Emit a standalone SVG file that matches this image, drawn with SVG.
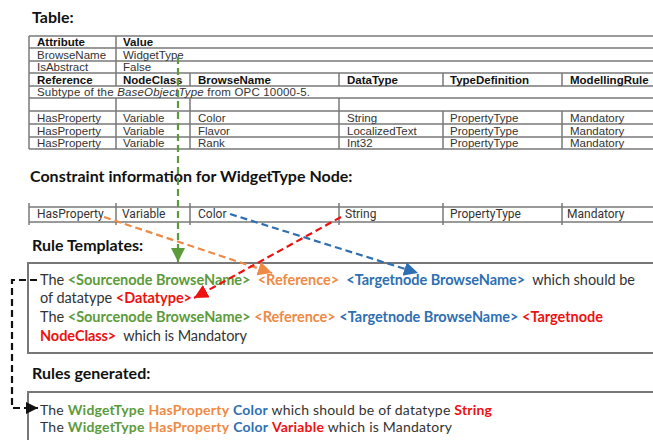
<svg xmlns="http://www.w3.org/2000/svg" width="653" height="440" viewBox="0 0 653 440">
  <style>
    .h { font-family: Lato, "Liberation Sans", sans-serif; font-weight: bold; font-size: 16px; fill: #111; }
    .t { font-family: "Liberation Sans", Arial, sans-serif; font-size: 11.5px; fill: #333; }
    .tb { font-weight: bold; fill: #111; }
    .ct { font-family: Roboto, "Liberation Sans", sans-serif; font-size: 12px; fill: #333; }
    .b { font-family: Lato, "Liberation Sans", sans-serif; font-size: 14.5px; fill: #333; white-space: pre; }
    .s { font-size: 14px; }
    .g { fill: #5c9b3b; font-weight: bold; }
    .o { fill: #ee8a45; font-weight: bold; }
    .bl { fill: #2e6fb3; font-weight: bold; }
    .r { fill: #ee1111; font-weight: bold; }
    .grid { stroke: #7a7a7a; stroke-width: 1.5; fill: none; }
    .box { stroke: #777; stroke-width: 2; fill: #fff; }
    .dash { fill: none; stroke-width: 2.2; stroke-dasharray: 7 4; }
  </style>
  <defs>
    <marker id="ah-green" markerUnits="userSpaceOnUse" markerWidth="14" markerHeight="14" viewBox="0 0 12 12" refX="12" refY="6" orient="auto">
      <path d="M0,0 L12,6 L0,12 Z" fill="#5c9b3b"/>
    </marker>
    <marker id="ah-orange" markerUnits="userSpaceOnUse" markerWidth="14" markerHeight="14" viewBox="0 0 12 12" refX="12" refY="6" orient="auto">
      <path d="M0,0 L12,6 L0,12 Z" fill="#ee8a45"/>
    </marker>
    <marker id="ah-blue" markerUnits="userSpaceOnUse" markerWidth="14" markerHeight="14" viewBox="0 0 12 12" refX="12" refY="6" orient="auto">
      <path d="M0,0 L12,6 L0,12 Z" fill="#2e6fb3"/>
    </marker>
    <marker id="ah-red" markerUnits="userSpaceOnUse" markerWidth="14" markerHeight="14" viewBox="0 0 12 12" refX="12" refY="6" orient="auto">
      <path d="M0,0 L12,6 L0,12 Z" fill="#ee1111"/>
    </marker>
    <marker id="ah-black" markerUnits="userSpaceOnUse" markerWidth="12" markerHeight="12" viewBox="0 0 12 12" refX="12" refY="6" orient="auto">
      <path d="M0,0 L12,6 L0,12 Z" fill="#111"/>
    </marker>
  </defs>
  <rect width="653" height="440" fill="#fff"/>

  <!-- Section: type definition table -->
  <g id="table">
    <text class="h" x="32" y="23">Table:</text>
    <g class="grid">
      <path d="M29,36 H653 M29,48 H653 M29,61 H653 M29,73 H653 M29,86 H653 M29,98 H653 M29,111 H653 M29,124 H653 M29,137 H653 M29,149 H653"/>
      <path d="M29,36 V149"/>
      <path d="M116,36 V86 M116,98 V149"/>
      <path d="M190,73 V86 M190,98 V149"/>
      <path d="M339,73 V86 M339,98 V149"/>
      <path d="M443,73 V86 M443,111 V149"/>
      <path d="M562,73 V86 M562,111 V149"/>
    </g>
    <text class="t tb" x="37" y="46">Attribute</text>
    <text class="t tb" x="123" y="46">Value</text>
    <text class="t" x="37" y="59">BrowseName</text>
    <text class="t" x="123" y="59">WidgetType</text>
    <text class="t" x="37" y="71">IsAbstract</text>
    <text class="t" x="123" y="71">False</text>
    <text class="t tb" x="37" y="84">Reference</text>
    <text class="t tb" x="123" y="84">NodeClass</text>
    <text class="t tb" x="198" y="84">BrowseName</text>
    <text class="t tb" x="347" y="84">DataType</text>
    <text class="t tb" x="450" y="84">TypeDefinition</text>
    <text class="t tb" x="570" y="84">ModellingRule</text>
    <text class="t" x="37" y="96" textLength="273">Subtype of the <tspan font-style="italic">BaseObjectType</tspan> from OPC 10000-5.</text>
    <text class="t" x="37" y="122">HasProperty</text>
    <text class="t" x="123" y="122">Variable</text>
    <text class="t" x="198" y="122">Color</text>
    <text class="t" x="347" y="122">String</text>
    <text class="t" x="450" y="122">PropertyType</text>
    <text class="t" x="570" y="122">Mandatory</text>
    <text class="t" x="37" y="135">HasProperty</text>
    <text class="t" x="123" y="135">Variable</text>
    <text class="t" x="198" y="135">Flavor</text>
    <text class="t" x="347" y="135">LocalizedText</text>
    <text class="t" x="450" y="135">PropertyType</text>
    <text class="t" x="570" y="135">Mandatory</text>
    <text class="t" x="37" y="147">HasProperty</text>
    <text class="t" x="123" y="147">Variable</text>
    <text class="t" x="198" y="147">Rank</text>
    <text class="t" x="347" y="147">Int32</text>
    <text class="t" x="450" y="147">PropertyType</text>
    <text class="t" x="570" y="147">Mandatory</text>
  </g>

  <!-- Section: constraint row -->
  <g id="constraint">
    <text class="h" x="30" y="182">Constraint information for WidgetType Node:</text>
    <g class="grid">
      <path d="M29,207 H653 M29,222 H653"/>
      <path d="M29,203 V225 M116,203 V225 M190,203 V225 M339,203 V225 M443,203 V225 M562,203 V225"/>
    </g>
    <text class="ct" x="37" y="218">HasProperty</text>
    <text class="ct" x="122" y="218">Variable</text>
    <text class="ct" x="198" y="218">Color</text>
    <text class="ct" x="345" y="218">String</text>
    <text class="ct" x="450" y="218">PropertyType</text>
    <text class="ct" x="567" y="218">Mandatory</text>
  </g>

  <!-- Section: rule templates -->
  <g id="templates">
    <text class="h" x="32" y="251">Rule Templates:</text>
    <path class="box" d="M655,263 H28 V353 H655"/>
    <text class="b" x="40" y="285" textLength="595">The <tspan class="g">&lt;Sourcenode BrowseName&gt;</tspan>  <tspan class="o">&lt;Reference&gt;</tspan>  <tspan class="bl">&lt;Targetnode BrowseName&gt;</tspan>  which should be</text>
    <text class="b" x="40" y="303" textLength="152">of datatype <tspan class="r">&lt;Datatype&gt;</tspan></text>
    <text class="b" x="40" y="322" textLength="563">The <tspan class="g">&lt;Sourcenode BrowseName&gt;</tspan> <tspan class="o">&lt;Reference&gt;</tspan> <tspan class="bl">&lt;Targetnode BrowseName&gt;</tspan> <tspan class="r">&lt;Targetnode</tspan></text>
    <text class="b" x="40" y="341" textLength="207"><tspan class="r">NodeClass&gt;</tspan>  which is Mandatory</text>
  </g>

  <!-- Section: generated rules -->
  <g id="generated">
    <text class="h" x="32" y="379">Rules generated:</text>
    <path class="box" d="M655,392 H28 V442"/>
    <text class="b s" x="40" y="415" textLength="452">The <tspan class="g">WidgetType</tspan> <tspan class="o">HasProperty</tspan> <tspan class="bl">Color</tspan> which should be of datatype <tspan class="r">String</tspan></text>
    <text class="b s" x="40" y="432" textLength="412">The <tspan class="g">WidgetType</tspan> <tspan class="o">HasProperty</tspan> <tspan class="bl">Color</tspan> <tspan class="r">Variable</tspan> which is Mandatory</text>
  </g>

  <!-- Connectors -->
  <g id="connectors">
    <path class="dash" stroke="#5c9b3b" d="M178,57 V262" marker-end="url(#ah-green)"/>
    <path class="dash" stroke="#ee8a45" d="M104,217 L272,273" marker-end="url(#ah-orange)"/>
    <path class="dash" stroke="#2e6fb3" d="M230,214 L418,273" marker-end="url(#ah-blue)"/>
    <path class="dash" stroke="#ee1111" d="M341,217 L194,298" marker-end="url(#ah-red)"/>
    <path class="dash" stroke="#111" d="M37,280 H12 V408 H38" marker-end="url(#ah-black)"/>
  </g>
</svg>
